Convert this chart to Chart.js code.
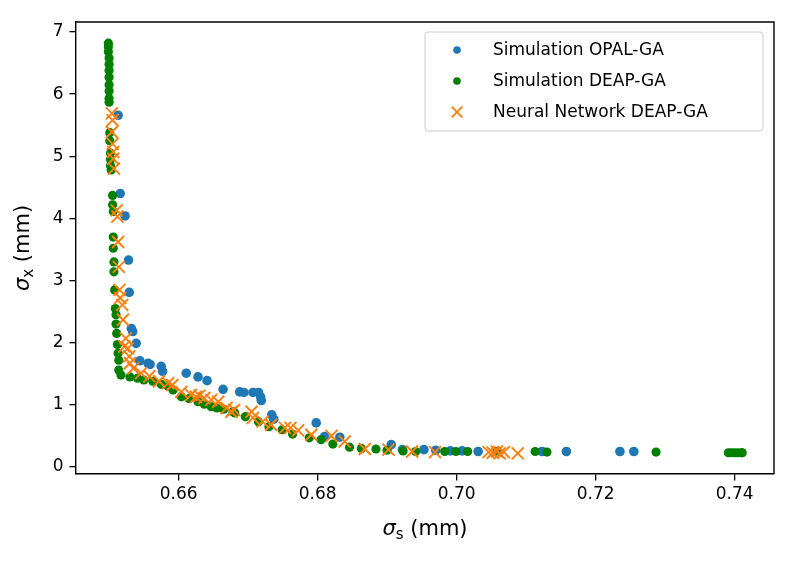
<!DOCTYPE html>
<html>
<head>
<meta charset="utf-8">
<script src="https://cdn.jsdelivr.net/npm/chart.js@4"></script>
<style>
  html, body { margin: 0; padding: 0; background: #fff; }
  #wrap { width: 796px; height: 561px; position: relative; }
</style>
</head>
<body>
<div id="wrap"><canvas id="chart" width="796" height="561"></canvas></div>
<script>
// sigma_s (mm) / sigma_x (mm)
const opalX = [0.6513, 0.6516, 0.6523, 0.6528, 0.6529, 0.6532, 0.6534, 0.6539, 0.6544, 0.6556,
  0.6559, 0.6575, 0.6577, 0.6611, 0.6628, 0.6641, 0.6664, 0.6688, 0.6694, 0.6707,
  0.6715, 0.6718, 0.6719, 0.6734, 0.6737, 0.6798, 0.6810, 0.6832, 0.6906, 0.6922,
  0.6953, 0.6970, 0.6991, 0.7008, 0.7031, 0.7059, 0.7123, 0.7158, 0.7235, 0.7255];
const opalY = [5.66, 4.40, 4.04, 3.33, 2.81, 2.23, 2.18, 1.99, 1.71, 1.67,
  1.65, 1.62, 1.54, 1.51, 1.45, 1.39, 1.25, 1.21, 1.20, 1.20,
  1.20, 1.13, 1.07, 0.84, 0.77, 0.71, 0.49, 0.48, 0.36, 0.28,
  0.28, 0.27, 0.26, 0.26, 0.25, 0.25, 0.25, 0.25, 0.25, 0.25];

const deapX = [0.6499, 0.6499, 0.6499, 0.6500, 0.6500, 0.6500, 0.6500, 0.6500, 0.6500, 0.6500, 0.6500,
  0.6501, 0.6501, 0.6502, 0.6502, 0.6502, 0.6503, 0.6505, 0.6505, 0.6506,
  0.6506, 0.6506, 0.6507, 0.6507, 0.6508, 0.6509, 0.6510, 0.6510, 0.6511, 0.6512, 0.6513, 0.6514, 0.6514, 0.6517,
  0.6530, 0.6541, 0.6550, 0.6563, 0.6575, 0.6585, 0.6592, 0.6604, 0.6615, 0.6628, 0.6637, 0.6647,
  0.6655, 0.6665, 0.6678, 0.6681, 0.6696, 0.6715, 0.6730, 0.6749, 0.6764, 0.6788, 0.6805, 0.6822,
  0.6846, 0.6863, 0.6884, 0.6900, 0.6923, 0.6941, 0.6983, 0.6999, 0.7016, 0.7058, 0.7113, 0.7130,
  0.7287, 0.7391, 0.7395, 0.7400, 0.7405, 0.7410, 0.7411];
const deapY = [6.82, 6.76, 6.68, 6.58, 6.48, 6.38, 6.27, 6.15, 6.05, 5.93, 5.87,
  5.38, 5.25, 5.05, 4.95, 4.85, 4.78, 4.37, 4.22, 4.11,
  3.70, 3.52, 3.30, 3.14, 2.85, 2.55, 2.45, 2.30, 2.15, 1.97, 1.83, 1.72, 1.56, 1.48,
  1.45, 1.43, 1.40, 1.38, 1.33, 1.30, 1.24, 1.13, 1.10, 1.05, 1.01, 0.97,
  0.95, 0.93, 0.89, 0.87, 0.81, 0.73, 0.65, 0.60, 0.53, 0.47, 0.44, 0.37,
  0.32, 0.30, 0.29, 0.27, 0.26, 0.25, 0.25, 0.25, 0.25, 0.25, 0.25, 0.24,
  0.24, 0.23, 0.23, 0.23, 0.23, 0.23, 0.23];

const nnX = [0.6504, 0.6505, 0.6504, 0.6505, 0.6506, 0.6506, 0.6507, 0.6511, 0.6512, 0.6513,
  0.6514, 0.6515, 0.6516, 0.6519, 0.6520, 0.6524, 0.6522, 0.6527, 0.6529, 0.6530,
  0.6535, 0.6546, 0.6558, 0.6572, 0.6585, 0.6591, 0.6604, 0.6618, 0.6625, 0.6630,
  0.6637, 0.6647, 0.6657, 0.6669, 0.6676, 0.6680, 0.6705, 0.6707, 0.6721, 0.6733,
  0.6753, 0.6761, 0.6772, 0.6791, 0.6820, 0.6839, 0.6868, 0.6902, 0.6936, 0.6969,
  0.7046, 0.7052, 0.7058, 0.7062, 0.7068, 0.7088];
const nnY = [5.69, 5.58, 5.39, 5.20, 5.07, 4.96, 4.80, 4.13, 4.03, 3.62,
  3.22, 2.85, 2.72, 2.61, 2.37, 2.07, 1.94, 1.91, 1.78, 1.67,
  1.59, 1.51, 1.46, 1.38, 1.35, 1.32, 1.21, 1.16, 1.13, 1.15,
  1.11, 1.08, 1.05, 0.95, 0.89, 0.92, 0.89, 0.79, 0.73, 0.68,
  0.63, 0.63, 0.59, 0.52, 0.50, 0.41, 0.29, 0.28, 0.25, 0.24,
  0.24, 0.23, 0.25, 0.22, 0.24, 0.22];

const seriesNames = ['Simulation OPAL-GA', 'Simulation DEAP-GA', 'Neural Network DEAP-GA'];
const xTicks = [0.66, 0.68, 0.70, 0.72, 0.74];
const yTicks = [0, 1, 2, 3, 4, 5, 6, 7];
const xLimits = [0.64524, 0.74567];
const yLimits = [-0.112, 7.16];

const pts = (xs, ys) => xs.map((x, i) => ({ x: x, y: ys[i] }));
const FONT = 'DejaVu Sans';

// top + right spines, axis titles, legend box
const extras = {
  id: 'extras',
  afterDraw(chart) {
    const ctx = chart.ctx, a = chart.chartArea;
    ctx.save();
    ctx.strokeStyle = '#000';
    ctx.lineWidth = 1.4;
    ctx.beginPath();
    ctx.moveTo(a.left, a.top); ctx.lineTo(a.right, a.top); ctx.lineTo(a.right, a.bottom);
    ctx.stroke();

    // axis titles with italic sigma and subscript
    const title = (sub, cx, cy, rot) => {
      ctx.save();
      ctx.translate(cx, cy);
      ctx.rotate(rot);
      ctx.fillStyle = '#000';
      ctx.textBaseline = 'alphabetic';
      ctx.font = 'italic 21px ' + FONT;
      const w1 = ctx.measureText('σ').width;
      ctx.font = '15px ' + FONT;
      const w2 = ctx.measureText(sub).width;
      ctx.font = '21px ' + FONT;
      const w3 = ctx.measureText(' (mm)').width;
      let x = -(w1 + w2 + w3) / 2;
      ctx.font = 'italic 21px ' + FONT;
      ctx.fillText('σ', x, 7); x += w1;
      ctx.font = '15px ' + FONT;
      ctx.fillText(sub, x, 11); x += w2;
      ctx.font = '21px ' + FONT;
      ctx.fillText(' (mm)', x, 7);
      ctx.restore();
    };
    title('s', (a.left + a.right) / 2, 528, 0);
    title('x', 22, (a.top + a.bottom) / 2, -Math.PI / 2);

    // legend
    const w = 338, h = 99, lx = a.right - w - 11, ly = a.top + 10;
    ctx.beginPath();
    ctx.roundRect(lx, ly, w, h, 3);
    ctx.fillStyle = 'rgba(255,255,255,0.8)';
    ctx.fill();
    ctx.strokeStyle = '#cccccc';
    ctx.lineWidth = 1;
    ctx.stroke();
    chart.data.datasets.forEach((ds, i) => {
      const cy = ly + 18 + i * 31;
      ctx.fillStyle = ds.backgroundColor;
      ctx.strokeStyle = ds.borderColor;
      ctx.lineWidth = ds.borderWidth;
      Chart.helpers.drawPoint(ctx, { pointStyle: ds.pointStyle, radius: ds.pointStyle === 'crossRot' ? 7.5 : 3.8, borderWidth: ds.borderWidth }, lx + 32, cy);
      ctx.fillStyle = '#000';
      ctx.font = '17px ' + FONT;
      ctx.textBaseline = 'middle';
      ctx.fillText(ds.label, lx + 68, cy + 1);
    });
    ctx.restore();
  }
};

new Chart(document.getElementById('chart'), {
  type: 'scatter',
  data: {
    datasets: [
      { label: seriesNames[0], data: pts(opalX, opalY), pointStyle: 'circle', pointRadius: 4.8,
        backgroundColor: '#1f77b4', borderColor: '#1f77b4', borderWidth: 0, order: 3 },
      { label: seriesNames[1], data: pts(deapX, deapY), pointStyle: 'circle', pointRadius: 4.6,
        backgroundColor: '#008000', borderColor: '#008000', borderWidth: 0, order: 2 },
      { label: seriesNames[2], data: pts(nnX, nnY), pointStyle: 'crossRot', pointRadius: 8.5,
        backgroundColor: '#ff7f0e', borderColor: '#ff7f0e', borderWidth: 1.9, order: 1 }
    ]
  },
  options: {
    responsive: false,
    animation: false,
    events: [],
    layout: { padding: { left: 0, top: 22, right: 22, bottom: 0 } },
    plugins: { legend: { display: false }, tooltip: { enabled: false } },
    scales: {
      x: {
        type: 'linear',
        min: xLimits[0], max: xLimits[1],
        afterBuildTicks: s => { s.ticks = xTicks.map(v => ({ value: v })); },
        afterFit: s => { s.height = 87; },
        ticks: { callback: v => v.toFixed(2), color: '#000', font: { family: FONT, size: 17 },
          padding: 4, maxRotation: 0, autoSkip: false },
        grid: { drawOnChartArea: false, tickLength: 6.5, color: '#000', lineWidth: 1.3 },
        border: { color: '#000', width: 1.4 }
      },
      y: {
        type: 'linear',
        min: yLimits[0], max: yLimits[1],
        afterBuildTicks: s => { s.ticks = yTicks.map(v => ({ value: v })); },
        afterFit: s => { s.width = 76; },
        ticks: { callback: v => String(v), color: '#000', font: { family: FONT, size: 17 },
          padding: 6, autoSkip: false },
        grid: { drawOnChartArea: false, tickLength: 6.5, color: '#000', lineWidth: 1.3 },
        border: { color: '#000', width: 1.4 }
      }
    }
  },
  plugins: [extras]
});
</script>
</body>
</html>
